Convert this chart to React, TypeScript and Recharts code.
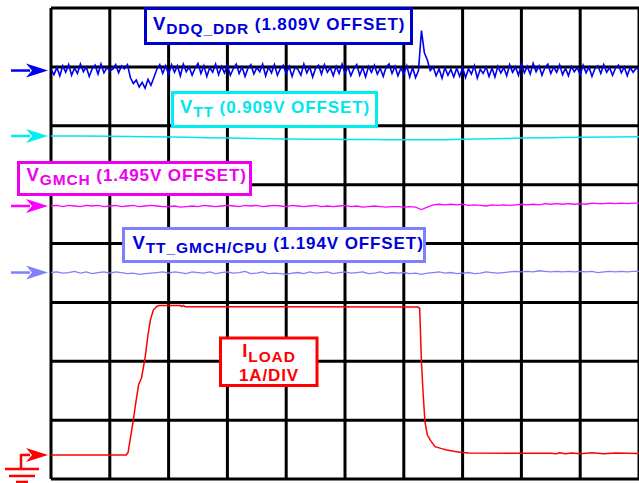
import React from "react";
import { LineChart, Line, XAxis, YAxis, CartesianGrid, ReferenceDot } from "recharts";

// screen: 10 horizontal divisions, 8 vertical divisions
const X_TICKS = [0, 1, 2, 3, 4, 5, 6, 7, 8, 9, 10];
const Y_TICKS = [0, 1, 2, 3, 4, 5, 6, 7, 8];

// channel offset positions (divisions from bottom)
const VDDQ_LEVEL = 6.938;
const VTT_LEVEL = 5.826;
const GMCH_LEVEL = 4.637;
const CPU_LEVEL = 3.507;
const ILOAD_ZERO = 0.408;

// VDDQ_DDR trace, deviation from offset (div), one sample every 0.05 div
const VDDQ_STEP = 0.05;
const VDDQ_DEV = [
  0.02, -0.07, 0.05, -0.09, 0.08, -0.03, 0.1, -0.08, 0.04, -0.05, 0.11, -0.02, 0.06, -0.1, 0.03, 0.09, -0.06, 0.11, -0.04, 0.05,
  0.0, 0.02, 0.1, -0.04, 0.08, 0.03, 0.1, -0.12, -0.22, -0.16, -0.28, -0.2, -0.3, -0.15, -0.25, -0.12, 0.02, 0.1, -0.05, 0.08,
  -0.07, 0.1, -0.03, 0.08, -0.09, 0.11, -0.02, 0.06, -0.08, 0.04, 0.12, -0.05, 0.08, -0.1, 0.05, -0.03, 0.11, -0.07, 0.07, -0.04,
  0.09, -0.08, 0.03, 0.11, -0.05, 0.06, -0.1, 0.04, 0.1, -0.06, 0.05, -0.02, 0.11, -0.09, 0.06, -0.04, 0.1, -0.08, 0.03, 0.09,
  -0.05, 0.07, -0.1, 0.05, 0.02, -0.08, 0.11, -0.04, 0.06, -0.11, 0.04, 0.09, -0.06, 0.1, -0.03, 0.05, -0.09, 0.07, -0.05, 0.11,
  -0.04, 0.06, -0.09, 0.03, 0.1, -0.08, 0.05, -0.11, 0.07, -0.03, 0.09, -0.06, 0.04, -0.1, 0.06, 0.11, -0.05, 0.07, -0.09, 0.04,
  -0.06, 0.08, -0.11, 0.05, -0.12, 0.0, 0.68, 0.3, 0.18, 0.0, 0.06, -0.09, 0.03, -0.13, 0.05, -0.08, 0.02, -0.11, 0.04, -0.1,
  0.05, -0.12, 0.03, -0.06, 0.08, -0.13, 0.02, -0.05, 0.06, -0.1, 0.04, -0.11, 0.07, -0.04, 0.05, -0.09, 0.1, -0.03, 0.06, -0.08,
  0.11, -0.04, 0.07, -0.06, 0.12, -0.02, 0.08, -0.08, 0.05, 0.11, -0.05, 0.06, -0.03, 0.1, -0.07, 0.04, -0.09, 0.07, -0.02, 0.05,
  -0.07, 0.09, -0.04, 0.06, -0.1, 0.03, 0.08, -0.05, 0.1, -0.03, 0.05, -0.08, 0.04, 0.09, -0.04, 0.06, -0.09, 0.05, -0.03, 0.04,
  0.02,
];

// VTT trace, absolute (div), every 0.5 div
const VTT_STEP = 0.5;
const VTT_VALUES = [
  5.826, 5.824, 5.82, 5.815, 5.81, 5.8, 5.79, 5.782, 5.775, 5.77, 5.768,
  5.765, 5.762, 5.762, 5.772, 5.78, 5.79, 5.797, 5.804, 5.81, 5.814,
];

// VGMCH and VTT_GMCH/CPU, deviation from offset (div), every 0.1 div
const SLOW_STEP = 0.1;
const GMCH_DEV = [
  0, 0.01, -0.01, 0.01, 0, -0.01, 0.01, 0, 0.01, -0.01,
  0, 0.01, -0.01, 0, 0.01, -0.01, 0, 0.01, 0, -0.01,
  -0.01, 0, -0.02, -0.01, 0, -0.01, 0.01, 0, -0.01, 0,
  0.01, 0, -0.01, 0.01, 0, 0.01, -0.01, 0, 0.01, 0,
  -0.01, 0.01, 0, -0.01, 0, 0.01, -0.01, 0, -0.01, 0,
  0.01, -0.01, 0, -0.02, -0.01, 0, -0.01, -0.02, -0.01, -0.01,
  -0.02, -0.01, -0.02, -0.06, -0.02, 0.02, 0.03, 0.02, 0.03, 0.02,
  0.03, 0.01, 0.02, 0.01, 0, 0.02, 0.01, 0.02, 0.01, 0.02,
  0.03, 0.02, 0.03, 0.02, 0.04, 0.03, 0.04, 0.03, 0.04, 0.03,
  0.04, 0.03, 0.05, 0.04, 0.04, 0.05, 0.04, 0.05, 0.04, 0.05,
  0.05,
];
const CPU_DEV = [
  0, 0.01, -0.01, 0, 0.02, -0.01, 0.01, -0.02, 0, 0.01,
  -0.01, 0.01, 0, -0.02, -0.01, -0.03, -0.02, -0.01, 0, 0.01,
  -0.01, 0.01, 0, -0.02, 0.01, 0, -0.01, 0.01, -0.02, 0,
  0.01, -0.01, 0, 0.02, -0.02, -0.01, 0.01, -0.02, -0.01, -0.02,
  -0.03, -0.01, 0, -0.02, 0.01, -0.01, 0, 0.01, -0.02, 0,
  0.01, -0.01, 0, 0.01, -0.02, -0.01, 0.01, -0.02, 0, -0.01,
  0, -0.02, -0.01, -0.03, -0.01, 0, 0.01, -0.01, 0, -0.02,
  -0.01, 0, -0.02, -0.01, 0.01, 0, -0.01, 0, 0.01, 0.02,
  0.01, 0.02, 0.01, 0.03, 0.02, 0.01, 0.02, 0.01, 0.02, 0.01,
  0.02, 0.01, 0.02, 0, 0.01, 0.02, 0.01, 0.02, 0.01, 0.02,
  0.02,
];

// ILOAD trace: time (div) and level (div)
const ILOAD_T = [
  0, 1.28, 1.31, 1.34, 1.4, 1.45, 1.49, 1.54, 1.6, 1.65, 1.69, 1.74, 1.8, 1.84, 2.2, 2.22, 2.25, 2.28,
  4.0, 6.24, 6.27, 6.3, 6.33, 6.36, 6.4, 6.45, 6.53, 6.63, 6.73, 6.85, 6.96, 7.1,
  8.5, 8.6, 8.65, 8.75, 8.85, 9.0, 9.2, 9.4, 9.6, 10,
];
const ILOAD_V = [
  0.408, 0.408, 0.45, 0.63, 1.0, 1.35, 1.6, 1.72, 2.06, 2.45, 2.7, 2.87, 2.93, 2.945, 2.945, 2.93, 2.95, 2.927,
  2.925, 2.921, 2.9, 1.99, 1.43, 0.97, 0.75, 0.66, 0.55, 0.52, 0.493, 0.47, 0.453, 0.44,
  0.437, 0.43, 0.445, 0.43, 0.44, 0.43, 0.445, 0.43, 0.44, 0.435,
];

const vddqData = VDDQ_DEV.map((d, i) => ({ t: i * VDDQ_STEP, v: VDDQ_LEVEL + d }));
const vttData = VTT_VALUES.map((v, i) => ({ t: i * VTT_STEP, v }));
const gmchData = GMCH_DEV.map((d, i) => ({ t: i * SLOW_STEP, v: GMCH_LEVEL + d }));
const cpuData = CPU_DEV.map((d, i) => ({ t: i * SLOW_STEP, v: CPU_LEVEL + d }));
const iloadData = ILOAD_T.map((t, i) => ({ t, v: ILOAD_V[i] }));

const FONT = "'Liberation Sans', Arial, Helvetica, sans-serif";

// channel marker drawn to the left of the screen
const marker = (color: string, ground = false) => (props: any) => {
  const { cx, cy } = props;
  const tip = cx - 3;
  return (
    <g>
      {ground ? (
        <g stroke={color} strokeWidth={2.5} fill="none">
          <path d={`M${tip - 27},${cy} L${tip - 18},${cy}`} />
          <path d={`M${tip - 27},${cy - 1} L${tip - 27},${cy + 14}`} />
          <path d={`M${tip - 43},${cy + 14} L${tip - 9},${cy + 14}`} />
          <path d={`M${tip - 39},${cy + 21} L${tip - 13},${cy + 21}`} />
          <path d={`M${tip - 32},${cy + 27} L${tip - 20},${cy + 27}`} />
        </g>
      ) : (
        <path d={`M${tip - 37},${cy} L${tip - 18},${cy}`} stroke={color} strokeWidth={2.5} />
      )}
      <path
        d={`M${tip},${cy} L${tip - 22},${cy - 7} L${tip - 16},${cy} L${tip - 22},${cy + 7} Z`}
        fill={color}
      />
    </g>
  );
};

type LabelProps = {
  x: number;
  y: number;
  w: number;
  h: number;
  border: string;
  color: string;
  tx: number;
  ty: number;
  sub: string;
  rest: string;
};

const Label = ({ x, y, w, h, border, color, tx, ty, sub, rest }: LabelProps) => (
  <g>
    <rect x={x + 1.5} y={y + 1.5} width={w - 3} height={h - 3} fill="#fff" stroke={border} strokeWidth={3} />
    <text x={tx} y={ty} fill={color} fontFamily={FONT} fontWeight="bold" style={{ letterSpacing: "0.9px" }}>
      <tspan fontSize={18.5}>V</tspan>
      <tspan fontSize={15.5} dy={4}>{sub}</tspan>
      <tspan fontSize={17} dy={-4}>{" " + rest}</tspan>
    </text>
  </g>
);

export default function App() {
  return (
    <div style={{ position: "absolute", left: 0, top: 0, width: 639, height: 483, background: "#fff" }}>
      <LineChart width={639} height={483} margin={{ top: 8, right: 0, bottom: 4, left: 51 }}>
        <CartesianGrid stroke="#000" strokeWidth={3} />
        <XAxis type="number" dataKey="t" domain={[0, 10]} ticks={X_TICKS} hide allowDataOverflow />
        <YAxis type="number" domain={[0, 8]} ticks={Y_TICKS} hide allowDataOverflow />
        <Line data={vttData} dataKey="v" type="monotone" stroke="#00e8ee" strokeWidth={1.5} dot={false} isAnimationActive={false} />
        <Line data={gmchData} dataKey="v" type="linear" stroke="#ff00ff" strokeWidth={1.3} dot={false} isAnimationActive={false} />
        <Line data={cpuData} dataKey="v" type="linear" stroke="#7f7fff" strokeWidth={1.3} dot={false} isAnimationActive={false} />
        <Line data={iloadData} dataKey="v" type="linear" stroke="#ff0000" strokeWidth={1.5} dot={false} isAnimationActive={false} />
        <Line data={vddqData} dataKey="v" type="linear" stroke="#0000ee" strokeWidth={1.6} dot={false} isAnimationActive={false} />
        <ReferenceDot x={0} y={VDDQ_LEVEL} ifOverflow="visible" shape={marker("#0000ee")} />
        <ReferenceDot x={0} y={VTT_LEVEL} ifOverflow="visible" shape={marker("#00eeee")} />
        <ReferenceDot x={0} y={GMCH_LEVEL} ifOverflow="visible" shape={marker("#ff00ff")} />
        <ReferenceDot x={0} y={CPU_LEVEL} ifOverflow="visible" shape={marker("#7f7fff")} />
        <ReferenceDot x={0} y={ILOAD_ZERO} ifOverflow="visible" shape={marker("#ff0000", true)} />
      </LineChart>
      <svg width={639} height={483} style={{ position: "absolute", left: 0, top: 0, pointerEvents: "none" }}>
        <Label x={144} y={7} w={269} h={38} border="#0000cc" color="#0000dd" tx={153} ty={29.5} sub="DDQ_DDR" rest="(1.809V OFFSET)" />
        <Label x={171} y={91} w={207} h={37} border="#00eeee" color="#00e6ee" tx={180} ty={112.5} sub="TT" rest="(0.909V OFFSET)" />
        <Label x={17} y={161} w={235} h={35} border="#ee00ee" color="#ee00ee" tx={26.5} ty={181} sub="GMCH" rest="(1.495V OFFSET)" />
        <Label x={122} y={227} w={304} h={36} border="#7f7fff" color="#0000dd" tx={132.5} ty={248.5} sub="TT_GMCH/CPU" rest="(1.194V OFFSET)" />
        <g>
          <rect x={220.5} y={338} width={96.5} height={47.5} fill="#fff" stroke="#ff0000" strokeWidth={3} />
          <text x={269} y={357.3} fill="#ff0000" fontFamily={FONT} fontWeight="bold" textAnchor="middle" style={{ letterSpacing: "0.9px" }}>
            <tspan fontSize={18.5}>I</tspan>
            <tspan fontSize={15.5} dy={5}>LOAD</tspan>
          </text>
          <text x={269} y={380.7} fill="#ff0000" fontFamily={FONT} fontWeight="bold" fontSize={17} textAnchor="middle" style={{ letterSpacing: "0.9px" }}>
            1A/DIV
          </text>
        </g>
      </svg>
    </div>
  );
}
